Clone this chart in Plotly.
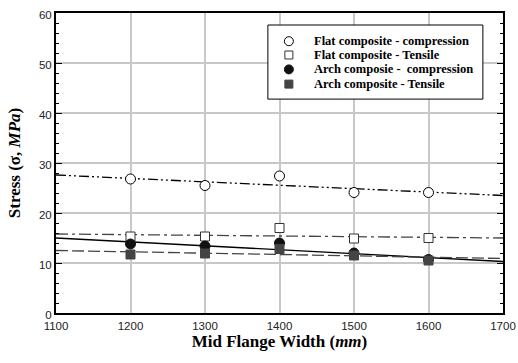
import plotly.graph_objects as go

x_width = [1200, 1300, 1400, 1500, 1600]
flat_comp = [26.8, 25.5, 27.4, 24.1, 24.1]
flat_tens = [15.3, 15.3, 17.0, 14.9, 15.0]
arch_comp = [13.8, 13.4, 14.0, 12.0, 10.7]
arch_tens = [11.7, 11.9, 12.8, 11.5, 10.5]

trend_x = [1100, 1700]
flat_comp_trend = [27.6, 23.5]
flat_tens_trend = [15.8, 15.0]
arch_comp_trend = [15.0, 10.3]
arch_tens_trend = [12.5, 10.9]

names = ["Flat composite - compression", "Flat composite - Tensile",
         "Arch composie -\u00a0\u00a0compression", "Arch composite - Tensile"]

fig = go.Figure()

# trend lines
fig.add_trace(go.Scatter(x=trend_x, y=flat_comp_trend, mode="lines", showlegend=False,
                         line=dict(color="black", width=1.3, dash="10px,3px,2px,3px,2px,3px")))
fig.add_trace(go.Scatter(x=trend_x, y=flat_tens_trend, mode="lines", showlegend=False,
                         line=dict(color="#444444", width=1.3, dash="12px,4px,3px,4px")))
fig.add_trace(go.Scatter(x=trend_x, y=arch_comp_trend, mode="lines", showlegend=False,
                         line=dict(color="black", width=1.3)))
fig.add_trace(go.Scatter(x=trend_x, y=arch_tens_trend, mode="lines", showlegend=False,
                         line=dict(color="#444444", width=1.3, dash="12px,4px")))

# markers
fig.add_trace(go.Scatter(x=x_width, y=flat_comp, mode="markers", name=names[0], showlegend=False,
                         marker=dict(symbol="circle", size=10, color="white",
                                     line=dict(color="black", width=1))))
fig.add_trace(go.Scatter(x=x_width, y=flat_tens, mode="markers", name=names[1], showlegend=False,
                         marker=dict(symbol="square", size=9, color="white",
                                     line=dict(color="#333333", width=1))))
fig.add_trace(go.Scatter(x=x_width, y=arch_comp, mode="markers", name=names[2], showlegend=False,
                         marker=dict(symbol="circle", size=10, color="#111111",
                                     line=dict(color="#111111", width=1))))
fig.add_trace(go.Scatter(x=x_width, y=arch_tens, mode="markers", name=names[3], showlegend=False,
                         marker=dict(symbol="square", size=9, color="#444444",
                                     line=dict(color="#444444", width=1))))

# custom compact legend (box, symbols, labels)
leg_x0, leg_x1, leg_top, leg_bot = 0.474, 0.955, 0.96, 0.713
sym_x, txt_x = 0.521, 0.572
row_y = [0.906, 0.86, 0.812, 0.763]
shapes = [dict(type="rect", xref="paper", yref="paper", x0=leg_x0, x1=leg_x1,
               y0=leg_bot, y1=leg_top, line=dict(color="black", width=1), fillcolor="white",
               layer="above")]
sym_style = [("circle", "white", "black"), ("rect", "white", "#333333"),
             ("circle", "#111111", "#111111"), ("rect", "#444444", "#444444")]
annotations = []
for (kind, fill, edge), yy, label in zip(sym_style, row_y, names):
    r = 4.5 if kind == "circle" else 4
    shapes.append(dict(type=kind, xref="paper", yref="paper", xsizemode="pixel", ysizemode="pixel",
                       xanchor=sym_x, yanchor=yy, x0=-r, x1=r, y0=-r, y1=r,
                       fillcolor=fill, line=dict(color=edge, width=1), layer="above"))
    annotations.append(dict(xref="paper", yref="paper", x=txt_x, y=yy, xanchor="left",
                            yanchor="middle", showarrow=False, text="<b>" + label + "</b>",
                            font=dict(family="Liberation Serif", size=12.5, color="black")))

fig.update_layout(
    width=518, height=363,
    margin=dict(l=56, r=15, t=13, b=50, autoexpand=False),
    paper_bgcolor="white", plot_bgcolor="white",
    font=dict(family="Liberation Sans", size=11.5, color="#222222"),
    showlegend=False,
    shapes=shapes, annotations=annotations,
    xaxis=dict(range=[1100, 1700], dtick=100, showgrid=True, gridcolor="#c8c8c8", gridwidth=1.5,
               showline=True, linecolor="black", linewidth=2, mirror=True,
               ticks="", zeroline=False, ticklabelstandoff=1,
               title=dict(text="<b>Mid Flange Width (<i>mm</i>)</b>",
                          font=dict(family="Liberation Serif", size=17, color="black"), standoff=3)),
    yaxis=dict(range=[0, 60], dtick=10, showgrid=True, gridcolor="#c8c8c8", gridwidth=1.5,
               showline=True, linecolor="black", linewidth=2, mirror="ticks",
               ticks="inside", ticklen=6, tickcolor="black", ticklabelshift=2,
               minor=dict(dtick=2, ticks="inside", ticklen=3, tickcolor="black", showgrid=False),
               zeroline=False,
               title=dict(text="<b>Stress (σ, <i>MPa</i>)</b>",
                          font=dict(family="Liberation Serif", size=17, color="black"), standoff=14)),
)

fig.write_html("out.html", config={"displayModeBar": False},
               post_script="document.body.style.margin='0';")
